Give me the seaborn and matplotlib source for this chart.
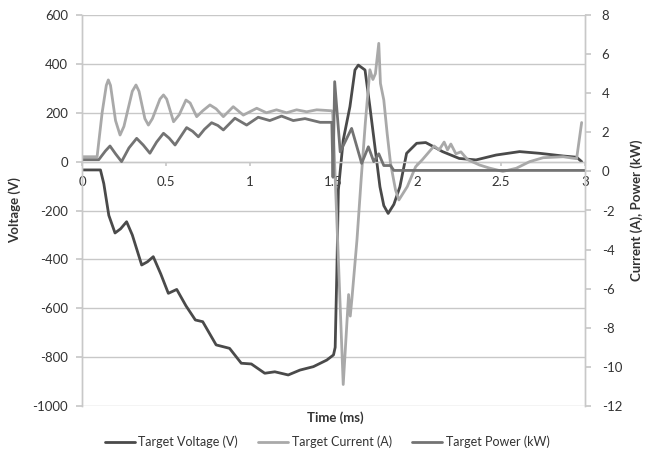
import numpy as np
import pandas as pd
import matplotlib
matplotlib.use("Agg")
import matplotlib.pyplot as plt
import seaborn as sns

# ---------------- data ----------------
volt_t = [0, 0.11, 0.13, 0.16, 0.197, 0.23, 0.266, 0.30, 0.356, 0.39, 0.425, 0.47, 0.515,
          0.565, 0.62, 0.676, 0.72, 0.80, 0.88, 0.95, 1.01, 1.09, 1.15, 1.23, 1.30, 1.38,
          1.46, 1.50, 1.51, 1.52, 1.529, 1.558, 1.598, 1.628, 1.648, 1.688, 1.717, 1.747,
          1.777, 1.80, 1.826, 1.86, 1.896, 1.936, 1.996, 2.05, 2.10, 2.15, 2.25, 2.35,
          2.47, 2.61, 2.73, 2.87, 2.95, 2.98]
volt_v = [-34, -34, -90, -220, -292, -275, -246, -300, -423, -410, -389, -460, -539,
          -523, -590, -648, -655, -750, -764, -825, -828, -866, -860, -873, -853, -839,
          -812, -791, -760, -450, -116, 88, 225, 375, 395, 375, 225, 61,
          -103, -180, -212, -175, -103, 34, 75, 78, 60, 41, 13, 7,
          27, 41, 34, 23, 18, 0]

curr_t = [0, 0.09, 0.12, 0.145, 0.157, 0.17, 0.20, 0.227, 0.25, 0.30, 0.322, 0.34, 0.375,
          0.396, 0.42, 0.465, 0.486, 0.505, 0.546, 0.58, 0.62, 0.645, 0.684, 0.72, 0.763,
          0.80, 0.843, 0.902, 0.962, 1.042, 1.10, 1.16, 1.22, 1.28, 1.34, 1.40, 1.49, 1.495,
          1.558, 1.59, 1.60, 1.61, 1.64, 1.665, 1.69, 1.717, 1.735, 1.75, 1.77, 1.78, 1.80,
          1.82, 1.84, 1.87, 1.89, 1.94, 1.99, 2.03, 2.06, 2.10, 2.13, 2.16, 2.18, 2.20,
          2.23, 2.26, 2.30, 2.37, 2.43, 2.51, 2.59, 2.67, 2.75, 2.87, 2.95, 2.98]
curr_a = [0.75, 0.75, 3.0, 4.4, 4.68, 4.4, 2.6, 1.86, 2.3, 4.1, 4.42, 4.1, 2.7,
          2.37, 2.7, 3.7, 3.91, 3.7, 2.54, 2.9, 3.65, 3.5, 2.80, 3.1, 3.40,
          3.2, 2.80, 3.31, 2.88, 3.23, 3.0, 3.15, 3.0, 3.15, 3.05, 3.15, 3.1, 3.0,
          -10.9, -6.3, -7.4, -6.5, -3.5, -0.4, 2.5, 5.2, 4.7, 5.0, 6.55, 4.5, 3.65,
          1.94, 0.42, -0.95, -1.46, -0.78, 0.24, 0.6, 0.9, 1.3, 1.1, 1.5, 1.1, 1.4,
          0.9, 1.0, 0.6, 0.33, 0.17, 0.0, 0.16, 0.5, 0.7, 0.75, 0.65, 2.5]

pow_t = [0, 0.10, 0.14, 0.167, 0.20, 0.236, 0.28, 0.326, 0.365, 0.405, 0.445, 0.486, 0.52,
         0.555, 0.59, 0.624, 0.66, 0.694, 0.73, 0.773, 0.81, 0.843, 0.912, 0.982, 1.051,
         1.12, 1.19, 1.26, 1.33, 1.42, 1.49, 1.497, 1.507, 1.54,
         1.608, 1.668, 1.708, 1.74, 1.77, 1.80, 1.84, 1.86, 3.0]
pow_kw = [0.6, 0.6, 1.05, 1.3, 0.9, 0.5, 1.2, 1.69, 1.35, 0.93, 1.5, 1.95, 1.7,
          1.35, 1.8, 2.24, 2.05, 1.77, 2.15, 2.49, 2.35, 2.12, 2.72, 2.37, 2.77,
          2.6, 2.83, 2.6, 2.7, 2.51, 2.51, -0.3, 4.59, 1.0,
          2.2, 0.41, 1.26, 0.5, 0.9, 0.3, 0.3, 0.05, 0.05]

x_ticks = [0, 0.5, 1, 1.5, 2, 2.5, 3]
x_tick_labels = ["0", "0.5", "1", "1.5", "2", "2.5", "3"]
left_ticks = list(range(-1000, 601, 200))
right_ticks = list(range(-12, 9, 2))
series_names = ["Target Voltage (V)", "Target Current (A)", "Target Power (kW)"]

# ---------------- styling ----------------
sns.set_theme(style="white")
plt.rcParams["font.family"] = ["Lato", "DejaVu Sans"]
plt.rcParams["axes.unicode_minus"] = False
TXT = "#333333"
GRID = "#c8c8c8"
C_V, C_I, C_P = "#4a4a4a", "#a9a9a9", "#737373"

fig = plt.figure(figsize=(6.52, 4.61), dpi=100)
ax = fig.add_axes([82/652, 1-406/461, (585-82)/652, (406-15)/461])
ax2 = ax.twinx()

df_v = pd.DataFrame({"t": volt_t, "v": volt_v})
df_i = pd.DataFrame({"t": curr_t, "v": curr_a})
df_p = pd.DataFrame({"t": pow_t, "v": pow_kw})

sns.lineplot(data=df_v, x="t", y="v", ax=ax, color=C_V, lw=2.0, estimator=None)
sns.lineplot(data=df_i, x="t", y="v", ax=ax2, color=C_I, lw=2.0, estimator=None)
sns.lineplot(data=df_p, x="t", y="v", ax=ax2, color=C_P, lw=2.0, estimator=None)

ax.set_xlim(0, 3)
ax.set_ylim(-1000, 600)
ax2.set_ylim(-12, 8)
ax.set_yticks(left_ticks)
ax2.set_yticks(right_ticks)
ax.set_xticks(x_ticks)
ax.set_xticklabels(x_tick_labels)

ax.yaxis.grid(True, color=GRID, lw=1.0)
ax.set_axisbelow(True)

for a in (ax, ax2):
    for s in a.spines.values():
        s.set_color(GRID)
        s.set_linewidth(1.0)
    a.spines["top"].set_visible(False)
ax.spines["bottom"].set_position(("data", 0))
ax2.spines["bottom"].set_visible(False)

ax.tick_params(axis="y", left=True, length=4, color=GRID, labelsize=9.5, labelcolor=TXT, pad=6)
ax2.tick_params(axis="y", right=True, length=4, color=GRID, labelsize=9.5, labelcolor=TXT, pad=8)
ax.tick_params(axis="x", bottom=True, length=3, color=GRID, labelsize=9.5, labelcolor=TXT, pad=7)

ax.set_xlabel("")
ax.set_ylabel("Voltage (V)", fontsize=9.5, fontweight="bold", color=TXT, labelpad=8)
ax2.set_ylabel("Current (A), Power (kW)", fontsize=9.5, fontweight="bold", color=TXT, labelpad=6)
fig.text(335/652, 1-418/461, "Time (ms)", ha="center", va="center",
         fontsize=9.5, fontweight="bold", color=TXT)

handles = [ax.get_lines()[0], ax2.get_lines()[0], ax2.get_lines()[1]]
fig.legend(handles, series_names, loc="center", bbox_to_anchor=(327/652, 1-442/461),
           ncol=3, frameon=False, fontsize=9, handlelength=2.4, columnspacing=1.6,
           labelcolor=TXT, handletextpad=0.3)

fig.savefig("out.png", dpi=100, facecolor="white")
